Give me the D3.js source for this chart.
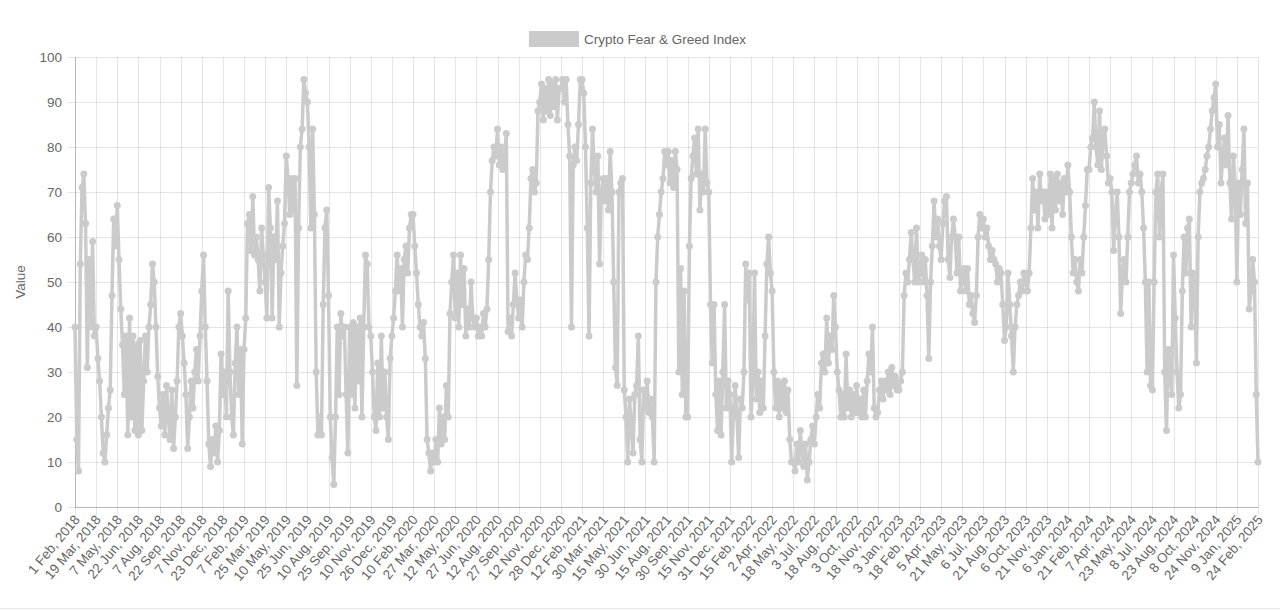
<!DOCTYPE html>
<html>
<head>
<meta charset="utf-8">
<script src="https://cdn.jsdelivr.net/npm/d3@7"></script>
<style>
  html, body { margin: 0; padding: 0; background: #ffffff; }
  svg { display: block; font-family: "Liberation Sans", Arial, Helvetica, sans-serif; }
</style>
</head>
<body>
<svg id="chart" width="1280" height="610"></svg>
<script>
// ---- data ----
const seriesName = "Crypto Fear & Greed Index";
const yAxisTitle = "Value";
const yTicks = [0, 10, 20, 30, 40, 50, 60, 70, 80, 90, 100];
const tickLabels = [
  "1 Feb, 2018", "19 Mar, 2018", "7 May, 2018", "22 Jun, 2018", "7 Aug, 2018", "22 Sep, 2018",
  "7 Nov, 2018", "23 Dec, 2018", "7 Feb, 2019", "25 Mar, 2019", "10 May, 2019", "25 Jun, 2019",
  "10 Aug, 2019", "25 Sep, 2019", "10 Nov, 2019", "26 Dec, 2019", "10 Feb, 2020", "27 Mar, 2020",
  "12 May, 2020", "27 Jun, 2020", "12 Aug, 2020", "27 Sep, 2020", "12 Nov, 2020", "28 Dec, 2020",
  "12 Feb, 2021", "30 Mar, 2021", "15 May, 2021", "30 Jun, 2021", "15 Aug, 2021", "30 Sep, 2021",
  "15 Nov, 2021", "31 Dec, 2021", "15 Feb, 2022", "2 Apr, 2022", "18 May, 2022", "3 Jul, 2022",
  "18 Aug, 2022", "3 Oct, 2022", "18 Nov, 2022", "3 Jan, 2023", "18 Feb, 2023", "5 Apr, 2023",
  "21 May, 2023", "6 Jul, 2023", "21 Aug, 2023", "6 Oct, 2023", "21 Nov, 2023", "6 Jan, 2024",
  "21 Feb, 2024", "7 Apr, 2024", "23 May, 2024", "8 Jul, 2024", "23 Aug, 2024", "8 Oct, 2024",
  "24 Nov, 2024", "9 Jan, 2025", "24 Feb, 2025"
];
// readings: 12 samples between consecutive tick labels
const samplesPerTick = 12;
const values = [
  40, 15, 8, 54, 71, 74, 63, 31, 55, 40, 59, 38,
  40, 33, 28, 20, 12, 10, 16, 22, 26, 47, 64, 58,
  67, 55, 44, 36, 25, 38, 16, 42, 20, 38, 17, 36,
  16, 37, 17, 28, 38, 30, 40, 45, 54, 50, 40, 29,
  22, 18, 25, 16, 27, 20, 15, 26, 13, 20, 28, 40,
  43, 38, 32, 25, 13, 20, 28, 22, 30, 35, 28, 38,
  48, 56, 40, 28, 14, 9, 15, 12, 18, 10, 17, 34,
  25, 30, 20, 48, 30, 20, 16, 32, 40, 25, 35, 14,
  35, 42, 63, 65, 57, 69, 56, 60, 55, 48, 62, 56,
  50, 42, 71, 62, 42, 60, 55, 68, 40, 52, 58, 63,
  78, 73, 65, 73, 66, 73, 27, 62, 80, 84, 95, 92,
  90, 80, 62, 84, 65, 30, 16, 20, 16, 45, 62, 66,
  47, 20, 11, 5, 20, 40, 25, 43, 38, 40, 25, 12,
  40, 25, 41, 22, 40, 28, 42, 20, 40, 56, 54, 40,
  38, 30, 20, 17, 32, 20, 38, 22, 30, 20, 15, 33,
  38, 42, 48, 56, 48, 53, 40, 55, 58, 52, 62, 65,
  65, 58, 52, 45, 40, 38, 41, 33, 15, 12, 8, 12,
  10, 15, 10, 22, 14, 20, 15, 27, 20, 43, 50, 56,
  42, 52, 40, 56, 45, 53, 38, 44, 40, 50, 42, 40,
  42, 38, 40, 38, 43, 40, 44, 55, 70, 77, 80, 78,
  84, 76, 80, 75, 78, 83, 39, 42, 38, 45, 52, 46,
  42, 46, 40, 50, 56, 55, 62, 73, 75, 70, 72, 88,
  90, 94, 86, 93, 88, 95, 87, 94, 89, 95, 86, 93,
  93, 95, 90, 95, 85, 78, 40, 76, 80, 77, 85, 95,
  95, 92, 80, 62, 38, 72, 84, 75, 70, 78, 54, 70,
  73, 68, 73, 66, 79, 70, 50, 31, 27, 70, 72, 73,
  26, 20, 10, 24, 18, 12, 25, 27, 38, 15, 10, 26,
  22, 28, 21, 24, 20, 10, 50, 60, 65, 70, 73, 79,
  76, 79, 72, 77, 71, 79, 75, 30, 53, 25, 48, 20,
  20, 58, 73, 78, 82, 74, 84, 66, 74, 70, 84, 72,
  70, 45, 32, 45, 25, 17, 28, 16, 30, 45, 22, 28,
  25, 10, 21, 27, 20, 11, 24, 22, 30, 54, 46, 52,
  20, 28, 52, 24, 30, 21, 28, 22, 38, 54, 60, 52,
  48, 30, 22, 28, 20, 27, 22, 28, 21, 26, 15, 10,
  10, 8, 14, 10, 17, 12, 9, 14, 6, 10, 15, 18,
  14, 20, 25, 22, 32, 34, 30, 42, 32, 38, 35, 47,
  40, 30, 26, 20, 25, 20, 34, 22, 26, 20, 25, 21,
  27, 21, 24, 20, 26, 20, 28, 34, 30, 40, 22, 20,
  21, 26, 28, 24, 28, 26, 30, 25, 31, 27, 29, 26,
  26, 28, 30, 47, 52, 50, 55, 61, 55, 50, 62, 50,
  52, 56, 50, 55, 47, 33, 50, 58, 68, 60, 64, 58,
  55, 63, 68, 69, 55, 51, 60, 64, 60, 52, 60, 48,
  50, 53, 48, 53, 45, 47, 43, 41, 47, 60, 65, 62,
  64, 60, 62, 58, 55, 57, 55, 54, 50, 53, 52, 45,
  37, 40, 52, 45, 38, 30, 40, 45, 47, 50, 48, 52,
  50, 48, 52, 62, 73, 66, 70, 62, 74, 68, 70, 64,
  70, 65, 74, 62, 73, 66, 74, 68, 72, 65, 73, 70,
  76, 70, 60, 52, 55, 50, 48, 55, 52, 60, 67, 75,
  75, 80, 82, 90, 80, 76, 88, 75, 82, 84, 78, 72,
  73, 70, 57, 65, 70, 60, 43, 52, 55, 50, 60, 70,
  72, 74, 76, 78, 72, 74, 70, 62, 50, 30, 50, 27,
  26, 50, 70, 74, 60, 70, 74, 30, 17, 35, 30, 25,
  56, 42, 30, 22, 25, 48, 60, 52, 62, 64, 40, 52,
  50, 32, 60, 70, 72, 73, 75, 78, 80, 84, 88, 91,
  94, 80, 85, 72, 78, 82, 76, 87, 72, 64, 78, 72,
  50, 72, 65, 75, 84, 63, 72, 44, 48, 55, 50, 25,
  10
];

// ---- layout ----
const plot = { left: 75, right: 1258, top: 57, bottom: 507 };
const lineColor = "rgb(203, 203, 203)";
const textColor = "#666666";
const gridColor = "rgba(0,0,0,0.1)";

const svg = d3.select("#chart");

const x = d3.scaleLinear().domain([0, values.length - 1]).range([plot.left, plot.right]);
const y = d3.scaleLinear().domain([0, 100]).range([plot.bottom, plot.top]);

const tickIdx = tickLabels.map((_, i) => i * samplesPerTick);

// grid
const gx = svg.append("g").attr("class", "grid-x");
gx.selectAll("line").data(tickIdx).join("line")
  .attr("x1", d => Math.round(x(d)) + 0.5).attr("x2", d => Math.round(x(d)) + 0.5)
  .attr("y1", plot.top).attr("y2", plot.bottom + 8)
  .attr("stroke", gridColor).attr("stroke-width", 1);
const gy = svg.append("g").attr("class", "grid-y");
gy.selectAll("line").data(yTicks).join("line")
  .attr("x1", plot.left - 8).attr("x2", plot.right)
  .attr("y1", d => Math.round(y(d)) + 0.5).attr("y2", d => Math.round(y(d)) + 0.5)
  .attr("stroke", gridColor).attr("stroke-width", 1);

// axis lines
svg.append("line").attr("x1", plot.left + 0.5).attr("x2", plot.left + 0.5)
  .attr("y1", plot.top).attr("y2", plot.bottom + 0.5)
  .attr("stroke", "rgba(0,0,0,0.2)");
svg.append("line").attr("x1", plot.left).attr("x2", plot.right)
  .attr("y1", plot.bottom + 0.5).attr("y2", plot.bottom + 0.5)
  .attr("stroke", "rgba(0,0,0,0.2)");

// y axis via d3
const yAxis = d3.axisLeft(y).tickValues(yTicks).tickSize(0).tickPadding(13);
const yg = svg.append("g").attr("transform", `translate(${plot.left},0)`).call(yAxis);
yg.select(".domain").remove();
yg.selectAll("text").attr("fill", textColor).style("font-size", "13.5px")
  .style("font-family", '"Liberation Sans", Arial, sans-serif');

// x axis via d3
const xAxis = d3.axisBottom(x).tickValues(tickIdx).tickSize(0)
  .tickFormat((d, i) => tickLabels[i]);
const xg = svg.append("g").attr("transform", `translate(0,${plot.bottom})`).call(xAxis);
xg.select(".domain").remove();
xg.selectAll("text")
  .attr("fill", textColor)
  .style("font-size", "13.5px")
  .style("font-family", '"Liberation Sans", Arial, sans-serif')
  .attr("text-anchor", "end")
  .attr("dy", "0")
  .attr("y", 0)
  .attr("transform", "translate(5,13) rotate(-50)");

// y title
svg.append("text")
  .attr("transform", `translate(25,${(plot.top + plot.bottom) / 2}) rotate(-90)`)
  .attr("text-anchor", "middle")
  .attr("fill", textColor)
  .style("font-size", "13.5px")
  .text(yAxisTitle);

// line
const line = d3.line().x((d, i) => x(i)).y(d => y(d));
svg.append("path").datum(values)
  .attr("d", line)
  .attr("fill", "none")
  .attr("stroke", lineColor)
  .attr("stroke-width", 3.5)
  .attr("stroke-linejoin", "round");

// points
svg.append("g").selectAll("circle").data(values).join("circle")
  .attr("cx", (d, i) => x(i)).attr("cy", d => y(d)).attr("r", 3.5)
  .attr("fill", lineColor);

// legend
const lg = svg.append("g");
lg.append("rect").attr("x", 529).attr("y", 31).attr("width", 50).attr("height", 16)
  .attr("fill", lineColor);
lg.append("text").attr("x", 584).attr("y", 39).attr("dy", "0.35em")
  .attr("fill", textColor).style("font-size", "13.5px").text(seriesName);

// bottom border
svg.append("line").attr("x1", 0).attr("x2", 1280).attr("y1", 608.5).attr("y2", 608.5)
  .attr("stroke", "#e8e8e8");
</script>
</body>
</html>
